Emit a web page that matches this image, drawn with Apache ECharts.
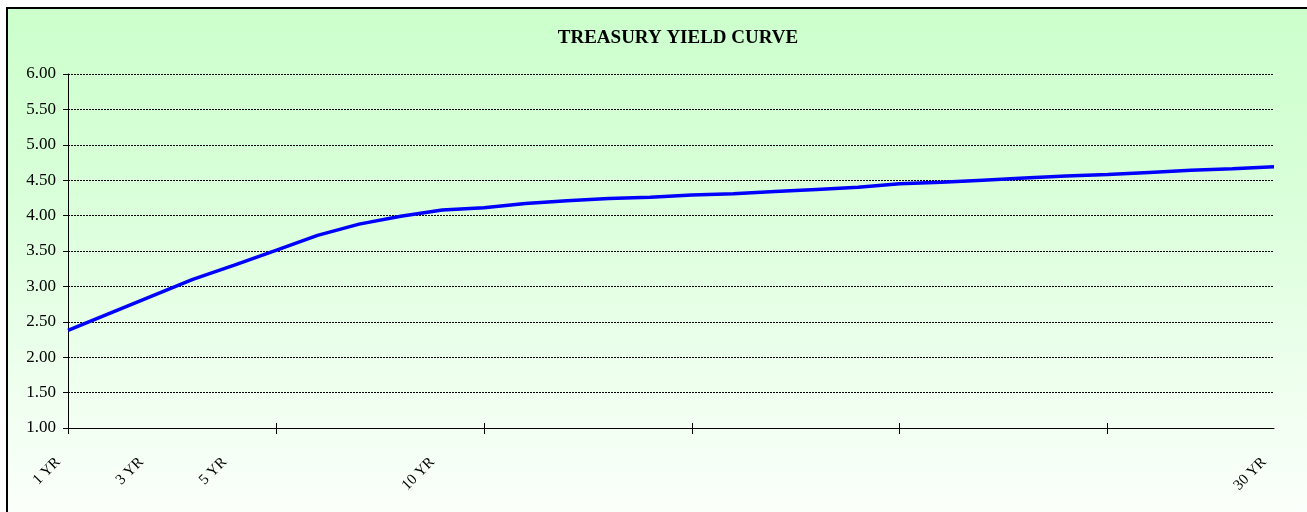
<!DOCTYPE html>
<html>
<head>
<meta charset="utf-8">
<script src="https://cdn.jsdelivr.net/npm/echarts@6/dist/echarts.min.js"></script>
<style>html,body{margin:0;padding:0;background:#fff;}#c{width:1307px;height:512px;}</style>
</head>
<body>
<div id="c"></div>
<script>
// Maturities in years (one category per year)
var categories = ['1 YR','2 YR','3 YR','4 YR','5 YR','6 YR','7 YR','8 YR','9 YR','10 YR',
  '11 YR','12 YR','13 YR','14 YR','15 YR','16 YR','17 YR','18 YR','19 YR','20 YR',
  '21 YR','22 YR','23 YR','24 YR','25 YR','26 YR','27 YR','28 YR','29 YR','30 YR'];
// Yields (%)
var yields = [2.38, 2.62, 2.86, 3.10, 3.30, 3.51, 3.72, 3.88, 3.99, 4.08,
  4.11, 4.17, 4.21, 4.24, 4.26, 4.29, 4.31, 4.34, 4.37, 4.40,
  4.45, 4.47, 4.50, 4.53, 4.56, 4.58, 4.61, 4.64, 4.66, 4.69];
// Which categories carry a label
var labelledIndexes = [0, 2, 4, 9, 29];
var yMin = 1, yMax = 6, yStep = 0.5;

var chart = echarts.init(document.getElementById('c'), null, {renderer: 'canvas'});
var serif = 'Liberation Serif, Times New Roman, serif';
chart.setOption({
  backgroundColor: '#ffffff',
  animation: false,
  graphic: [{
    type: 'rect', z: -10, silent: true,
    shape: {x: 7, y: 8, width: 1320, height: 530},
    style: {
      fill: new echarts.graphic.LinearGradient(0, 0, 0, 1, [
        {offset: 0, color: '#ccffcc'},
        {offset: 0.35, color: '#d9ffd9'},
        {offset: 0.7, color: '#eeffee'},
        {offset: 0.95, color: '#fbfffb'},
        {offset: 1, color: '#ffffff'}
      ]),
      stroke: '#000', lineWidth: 2
    }
  }],
  title: {
    text: 'TREASURY YIELD CURVE',
    left: 673, top: 24, textAlign: 'center',
    textStyle: {fontFamily: serif, fontWeight: 'bold', fontSize: 19, color: '#000'}
  },
  grid: {left: 68, right: 33, top: 74, bottom: 84, containLabel: false},
  xAxis: [{
    type: 'category', data: categories, boundaryGap: false,
    axisLine: {lineStyle: {color: '#000', width: 1}},
    axisTick: {show: true, length: 6, inside: false, lineStyle: {color: '#000'},
      interval: function (i) { return i % 5 === 0; }},
    axisLabel: {
      interval: function (i) { return labelledIndexes.indexOf(i) >= 0; },
      rotate: 45, margin: 22, padding: [0, 14, 0, 0],
      fontFamily: serif, fontSize: 15, color: '#000'
    },
    splitLine: {show: false}
  }, {
    type: 'category', data: categories, boundaryGap: false, position: 'bottom',
    axisLine: {show: false},
    axisTick: {show: true, length: 5, inside: true, lineStyle: {color: '#000'},
      interval: function (i) { return i % 5 === 0; }},
    axisLabel: {show: false},
    splitLine: {show: false}
  }],
  yAxis: {
    type: 'value', min: yMin, max: yMax, interval: yStep,
    axisLine: {show: true, lineStyle: {color: '#000', width: 1}},
    axisTick: {show: true, length: 5, lineStyle: {color: '#000'}},
    axisLabel: {
      margin: 12, fontFamily: serif, fontSize: 17, color: '#000',
      formatter: function (v) { return v.toFixed(2); }
    },
    splitLine: {show: true, lineStyle: {color: '#000', width: 1, type: [2, 1]}}
  },
  series: [{
    type: 'line', data: yields, xAxisIndex: 0,
    showSymbol: false, symbol: 'none',
    lineStyle: {color: '#0000ff', width: 3.5},
    z: 5
  }]
});
</script>
</body>
</html>
